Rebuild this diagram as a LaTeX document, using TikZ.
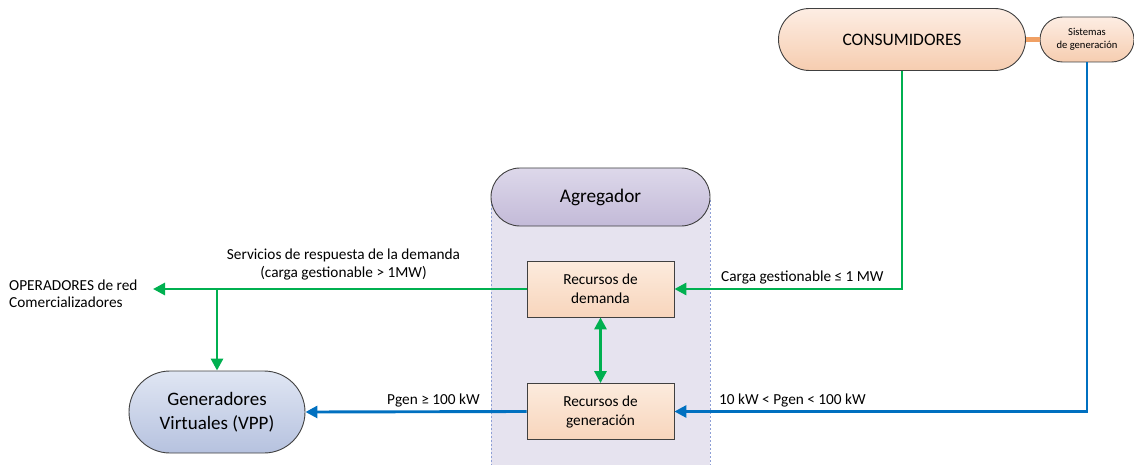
\documentclass[tikz,border=0pt]{standalone}
\usepackage{fontspec}
\setmainfont{Carlito}
\usetikzlibrary{arrows.meta}
\definecolor{gr}{HTML}{00B050}
\definecolor{bl}{HTML}{0070C0}
\definecolor{edge}{HTML}{404040}
\definecolor{peachT}{HTML}{FDEDE3}
\definecolor{peachB}{HTML}{F6CDB0}
\definecolor{recT}{HTML}{FCEBDD}
\definecolor{recB}{HTML}{F8D5BC}
\definecolor{lavT}{HTML}{DDD8EA}
\definecolor{lavB}{HTML}{C3BAD8}
\definecolor{lane}{HTML}{E6E3EF}
\definecolor{laneline}{HTML}{8E9FD6}
\definecolor{vppT}{HTML}{E0E6F3}
\definecolor{vppB}{HTML}{B6C2DF}
\definecolor{orng}{HTML}{F0A064}
\tikzset{
  pill/.style={rectangle, draw=edge, line width=0.9pt, align=center, inner sep=0pt},
  recbox/.style={rectangle, draw=edge, line width=0.8pt, top color=recT, bottom color=recB,
     minimum width=147pt, minimum height=56pt, align=center, inner sep=0pt,
     font=\fontsize{15.3}{19}\selectfont},
  lbl/.style={inner sep=0pt, font=\fontsize{15.3}{17.5}\selectfont, align=center},
  tip/.style={-{Triangle[length=12pt,width=12pt]}},
  gline/.style={draw=gr, line width=2.9pt},
  bline/.style={draw=bl, line width=2.9pt},
}
\begin{document}
\begin{tikzpicture}[x=1pt,y=-1pt]
\useasboundingbox (0,0) rectangle (1134,465);
% swim lane
\fill[lane] (491,196) rectangle (710,465);
\draw[laneline, line width=0.8pt, dash pattern=on 2pt off 2pt] (491,200) -- (491,465);
\draw[laneline, line width=0.8pt, dash pattern=on 2pt off 2pt] (710,200) -- (710,465);
\node[pill, top color=lavT, bottom color=lavB, minimum width=219pt, minimum height=58pt,
  rounded corners=29pt, font=\fontsize{19.3}{22}\selectfont] (agr) at (600.5,197) {Agregador};

% top nodes
\node[pill, top color=peachT, bottom color=peachB, minimum width=247pt, minimum height=62pt,
  rounded corners=31pt, font=\fontsize{17.5}{20}\selectfont] (cons) at (902,39.5) {CONSUMIDORES};
\node[pill, top color=peachT, bottom color=peachB, minimum width=94pt, minimum height=45pt,
  rounded corners=22.5pt, font=\fontsize{10.6}{13}\selectfont] (sis) at (1087,39.5) {Sistemas\\de generación};
\draw[orng, line width=5pt] (cons.east) -- (sis.west);

% aggregator boxes
\node[recbox] (dem) at (600.5,289) {Recursos de\\demanda};
\node[recbox] (gen) at (600.5,411.5) {Recursos de\\generación};

% VPP
\node[pill, top color=vppT, bottom color=vppB, minimum width=176pt, minimum height=82pt,
  rounded corners=41pt, font=\fontsize{19}{24}\selectfont] (vpp) at (217,412) {Generadores\\Virtuales (VPP)};

% operators text
\node[lbl, align=left, anchor=west] (op) at (9,293.5) {OPERADORES de red\\Comercializadores};
\coordinate (optip) at (153,289);
\coordinate (br) at (217,289);

% connectors
\draw[gline, tip] (cons.south) |- (dem.east);
\draw[bline, tip] (sis.south) |- (gen.east);
\draw[gline, tip] (dem.west) -- (optip);
\draw[gline, tip] (br) -- (vpp.north);
\draw[bline, tip] (gen.west) -- (vpp.east);
\draw[gline, {Triangle[length=12pt,width=12pt]}-{Triangle[length=12pt,width=12pt]}] (dem.south) -- (gen.north);

% labels
\node[lbl] (l1) at (343.5,264.5) {Servicios de respuesta de la demanda\\(carga gestionable > 1MW)};
\node[lbl, anchor=west] (l2) at (721,277.5) {Carga gestionable ≤ 1 MW};
\node[lbl, anchor=west] (l3) at (719,400.5) {10 kW < Pgen < 100 kW};
\node[lbl, anchor=west] (l4) at (387,400.5) {Pgen ≥ 100 kW};
\end{tikzpicture}
\end{document}
